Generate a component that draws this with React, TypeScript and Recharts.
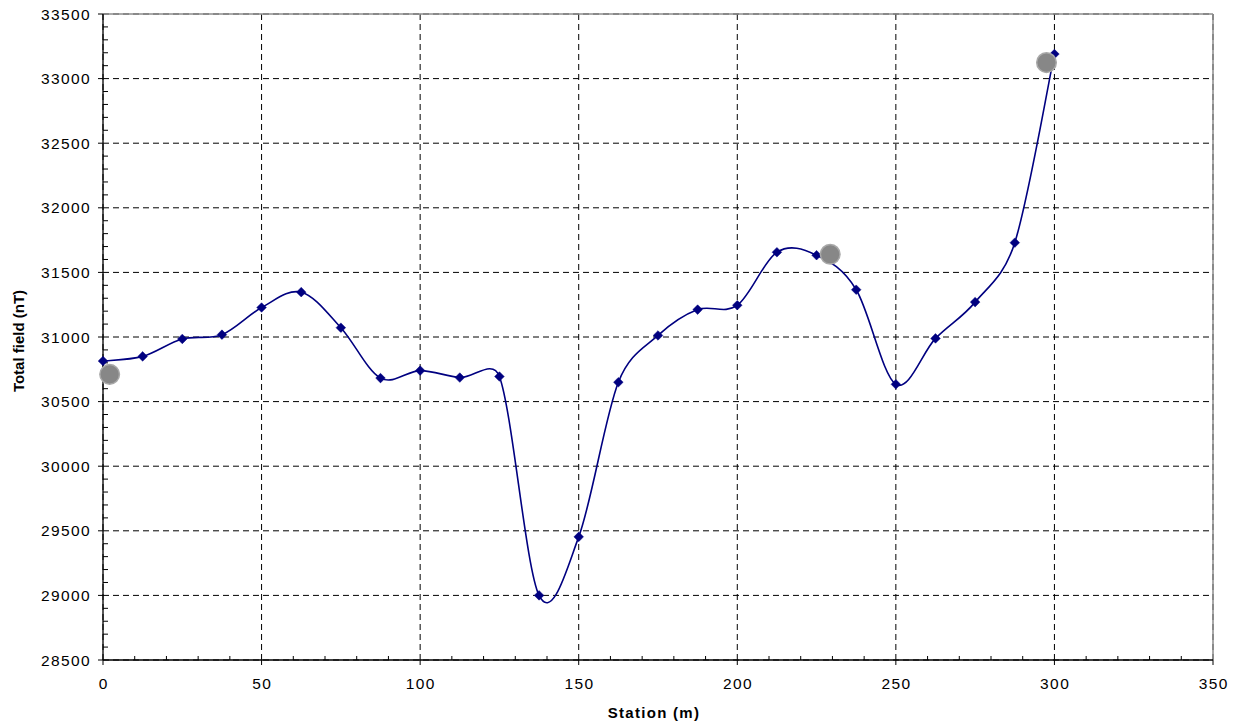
import React from "react";
import {
  ComposedChart,
  Line,
  Scatter,
  XAxis,
  YAxis,
  CartesianGrid,
  ReferenceLine,
} from "recharts";

// Survey stations (m)
const stations = [
  0, 12.5, 25, 37.5, 50, 62.5, 75, 87.5, 100, 112.5, 125, 137.5, 150, 162.5,
  175, 187.5, 200, 212.5, 225, 237.5, 250, 262.5, 275, 287.5, 300,
];
// Total field (nT)
const totalField = [
  30814, 30850, 30985, 31018, 31228, 31347, 31072, 30682, 30740, 30686, 30694,
  29000, 29453, 30650, 31012, 31212, 31246, 31656, 31633, 31366, 30634, 30989,
  31270, 31730, 33190,
];
// Grey reference points
const refStations = [2.1, 229.3, 297.5];
const refField = [30711, 31640, 33124];

const xTicks = [0, 50, 100, 150, 200, 250, 300, 350];
// all x tick positions (major + minor, every 10 m)
const xAllTicks = [
  0, 10, 20, 30, 40, 50, 60, 70, 80, 90, 100, 110, 120, 130, 140, 150, 160, 170,
  180, 190, 200, 210, 220, 230, 240, 250, 260, 270, 280, 290, 300, 310, 320, 330,
  340, 350,
];
const yTicks = [28500, 29000, 29500, 30000, 30500, 31000, 31500, 32000, 32500, 33000, 33500];
const yMinorTicks = [
  28600, 28700, 28800, 28900, 29100, 29200, 29300, 29400, 29600, 29700, 29800, 29900,
  30100, 30200, 30300, 30400, 30600, 30700, 30800, 30900, 31100, 31200, 31300, 31400,
  31600, 31700, 31800, 31900, 32100, 32200, 32300, 32400, 32600, 32700, 32800, 32900,
  33100, 33200, 33300, 33400,
];

const lineData = stations.map((x, i) => ({ x, y: totalField[i] }));
const refData = refStations.map((x, i) => ({ x, y: refField[i] }));

// Excel-like smoothing: Bezier through the points, tangent = (next - prev)/6,
// control distance capped at half of the segment length
const excelSmooth: any = (context: any) => {
  let pts: number[][] = [];
  const ctrl = (from: number[], a: number[], b: number[], seg: number[], sign: number) => {
    let dx = (b[0] - a[0]) / 6;
    let dy = (b[1] - a[1]) / 6;
    const len = Math.hypot(dx, dy);
    const half = Math.hypot(seg[0], seg[1]) / 2;
    if (len > half && len > 0) {
      dx *= half / len;
      dy *= half / len;
    }
    return [from[0] + sign * dx, from[1] + sign * dy];
  };
  return {
    areaStart() {},
    areaEnd() {},
    lineStart() {
      pts = [];
    },
    point(x: number, y: number) {
      pts.push([+x, +y]);
    },
    lineEnd() {
      const n = pts.length;
      if (!n) return;
      context.moveTo(pts[0][0], pts[0][1]);
      for (let i = 0; i < n - 1; i++) {
        const p0 = pts[Math.max(i - 1, 0)];
        const p1 = pts[i];
        const p2 = pts[i + 1];
        const p3 = pts[Math.min(i + 2, n - 1)];
        const seg = [p2[0] - p1[0], p2[1] - p1[1]];
        const b1 = ctrl(p1, p0, p2, seg, 1);
        const b2 = ctrl(p2, p1, p3, seg, -1);
        context.bezierCurveTo(b1[0], b1[1], b2[0], b2[1], p2[0], p2[1]);
      }
    },
  };
};

const Diamond = (props: any) => {
  const { cx, cy } = props;
  if (cx == null || cy == null) return null;
  const r = 4.8;
  return (
    <polygon
      points={`${cx},${cy - r} ${cx + r},${cy} ${cx},${cy + r} ${cx - r},${cy}`}
      fill="#000080"
      stroke="#000080"
      strokeWidth={0.5}
    />
  );
};

const GreyDot = (props: any) => {
  const { cx, cy } = props;
  if (cx == null || cy == null) return null;
  return <circle cx={cx} cy={cy} r={9.8} fill="#878787" stroke="#a8a8a8" strokeWidth={1.5} />;
};

const EmptyTick = () => <g />;

const FONT = "'Liberation Sans', Arial, Helvetica, sans-serif";
const tickStyle = { fontSize: 15.5, fill: "#000", fontFamily: FONT, letterSpacing: 1.4 };

// x-axis tick: major ticks point down with a label, minor ticks point up (inside)
const XTick = (props: any) => {
  const { x, y, payload } = props;
  const v = payload?.value;
  const major = xTicks.includes(v);
  return (
    <g>
      {major ? (
        <line x1={x} x2={x} y1={y} y2={y + 5} stroke="#000" strokeWidth={1} />
      ) : (
        <line x1={x} x2={x} y1={y} y2={y - 4} stroke="#000" strokeWidth={1} />
      )}
      {major && (
        <text
          x={x + 0.7}
          y={y + 18}
          dy="0.71em"
          textAnchor="middle"
          fontSize={15.5}
          fontFamily={FONT}
          letterSpacing={1.4}
          fill="#000"
        >
          {v}
        </text>
      )}
    </g>
  );
};

const YTitle = (props: any) => {
  const vb = props.viewBox || { x: 0, y: 0, width: 0, height: 0 };
  const cx = vb.x + 24;
  const cy = vb.y + vb.height / 2 + 4;
  return (
    <text
      x={cx}
      y={cy}
      transform={`rotate(-90 ${cx} ${cy})`}
      textAnchor="middle"
      fontFamily={FONT}
      fontWeight="bold"
      fontSize={15}
      fill="#000"
    >
      Total field (nT)
    </text>
  );
};

const XTitle = (props: any) => {
  const vb = props.viewBox || { x: 0, y: 0, width: 0, height: 0 };
  const cx = vb.x + vb.width / 2 - 4;
  const y = vb.y + vb.height - 9.5;
  return (
    <text
      x={cx}
      y={y}
      textAnchor="middle"
      fontFamily={FONT}
      fontWeight="bold"
      fontSize={15}
      letterSpacing={1.3}
      fill="#000"
    >
      Station (m)
    </text>
  );
};

export default function App() {
  return (
    <div style={{ position: "absolute", left: 0, top: 0, width: 1244, height: 727, background: "#fff" }}>
      <ComposedChart
        width={1244}
        height={727}
        margin={{ top: 14, right: 31, bottom: 0, left: 0 }}
      >
        <CartesianGrid stroke="#000" strokeDasharray="6 4" strokeWidth={1} horizontalValues={yTicks} verticalValues={xTicks} />
        <XAxis
          dataKey="x"
          type="number"
          domain={[0, 350]}
          ticks={xAllTicks}
          interval={0}
          height={67}
          tickSize={0}
          tickMargin={0}
          tick={<XTick />}
          tickLine={false}
          axisLine={{ stroke: "#000", strokeWidth: 1.3 }}
          label={{ content: <XTitle /> }}
        />
        <YAxis
          dataKey="y"
          type="number"
          domain={[28500, 33500]}
          ticks={yTicks}
          interval={0}
          width={103}
          tickSize={5}
          tickMargin={7}
          tick={tickStyle}
          axisLine={{ stroke: "#000", strokeWidth: 1.3 }}
          tickLine={{ stroke: "#000" }}
          label={{ content: <YTitle /> }}
        />
        <YAxis
          yAxisId="minor"
          type="number"
          domain={[28500, 33500]}
          ticks={yMinorTicks}
          interval={0}
          allowDataOverflow
          mirror
          width={20}
          tickSize={5}
          tick={<EmptyTick />}
          axisLine={false}
          tickLine={{ stroke: "#000" }}
        />
        <ReferenceLine y={33500} stroke="#8c8c8c" strokeWidth={1.5} />
        <ReferenceLine x={350} stroke="#8c8c8c" strokeWidth={1.5} />
        <Line
          data={lineData}
          dataKey="y"
          type={excelSmooth}
          stroke="#000080"
          strokeWidth={1.6}
          dot={<Diamond />}
          activeDot={false}
          isAnimationActive={false}
        />
        <Scatter
          data={refData}
          dataKey="y"
          shape={<GreyDot />}
          isAnimationActive={false}
        />
      </ComposedChart>
    </div>
  );
}
